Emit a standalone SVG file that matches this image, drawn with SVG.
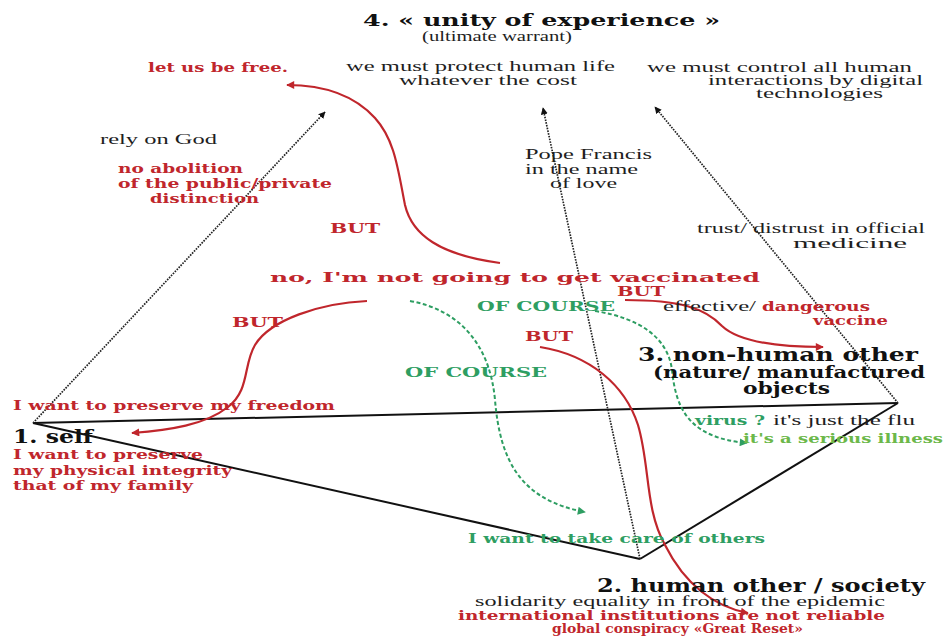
<svg xmlns="http://www.w3.org/2000/svg" width="945" height="637" viewBox="0 0 945 637">
  <style>
    text { font-family: "DejaVu Serif", "Liberation Serif", serif; }
    .reg { font-family: "Liberation Serif", "DejaVu Serif", serif; font-size: 15px; fill: #1e1e1e; }
    .red { font-size: 13px; font-weight: bold; fill: #c0262c; }
    .grn { font-size: 13px; font-weight: bold; fill: #2e9e62; }
    .lgrn { font-size: 13px; font-weight: bold; fill: #6cb84a; }
    .head { font-weight: bold; fill: #111; }
    .edge { fill: none; stroke: #111; stroke-width: 2; }
    .dot { fill: none; stroke: #222; stroke-width: 1.7; stroke-dasharray: 1.6 1.2; }
    .rc { fill: none; stroke: #c0262c; stroke-width: 2.2; }
    .gc { fill: none; stroke: #2e9e62; stroke-width: 2; stroke-dasharray: 4 2.5; }
  </style>
  <defs>
    <marker id="ah-black" viewBox="0 0 10 10" refX="9" refY="5" markerWidth="7" markerHeight="7" markerUnits="userSpaceOnUse" orient="auto">
      <path d="M0,0 L10,5 L0,10 z" fill="#111"/>
    </marker>
    <marker id="ah-red" viewBox="0 0 10 10" refX="9" refY="5" markerWidth="9" markerHeight="8" markerUnits="userSpaceOnUse" orient="auto">
      <path d="M0,0 L10,5 L0,10 z" fill="#c0262c"/>
    </marker>
    <marker id="ah-green" viewBox="0 0 10 10" refX="9" refY="5" markerWidth="9" markerHeight="8" markerUnits="userSpaceOnUse" orient="auto">
      <path d="M0,0 L10,5 L0,10 z" fill="#2e9e62"/>
    </marker>
  </defs>

  <rect width="945" height="637" fill="#ffffff"/>

  <!-- base triangle and dotted edges towards the apex -->
  <g id="connectors">
    <line class="edge" x1="33" y1="423" x2="898" y2="403"/>
    <line class="edge" x1="33" y1="423" x2="640" y2="559"/>
    <line class="edge" x1="640" y1="559" x2="898" y2="403"/>

    <line class="dot" x1="33" y1="423" x2="325" y2="112" marker-end="url(#ah-black)"/>
    <line class="dot" x1="640" y1="559" x2="543" y2="108" marker-end="url(#ah-black)"/>
    <line class="dot" x1="898" y1="403" x2="655" y2="107" marker-end="url(#ah-black)"/>

    <!-- red "BUT" arrows -->
    <path class="rc" d="M 500 263 C 440 255, 412 235, 405 205 C 398 170, 395 140, 375 118 C 355 96, 325 85, 287 85" marker-end="url(#ah-red)"/>
    <path class="rc" d="M 367 301 C 320 303, 270 320, 255 345 C 243 365, 250 390, 228 407 C 205 425, 170 430, 132 433" marker-end="url(#ah-red)"/>
    <path class="rc" d="M 625 300 C 680 300, 705 308, 722 326 C 740 343, 780 347, 823 347" marker-end="url(#ah-red)"/>
    <path class="rc" d="M 540 347 C 590 355, 625 385, 638 425 C 650 465, 645 510, 665 545 C 685 585, 715 607, 748 613" marker-end="url(#ah-red)"/>

    <!-- green "OF COURSE" arrows -->
    <path class="gc" d="M 410 301 C 460 310, 490 345, 495 400 C 500 460, 520 500, 585 512" marker-end="url(#ah-green)"/>
    <path class="gc" d="M 595 311 C 640 318, 668 338, 672 370 C 676 410, 690 438, 747 443" marker-end="url(#ah-green)"/>
  </g>

  <g id="node-unity">
    <text class="head" x="363" y="26" font-size="17" textLength="357" lengthAdjust="spacingAndGlyphs">4. « unity of experience »</text>
    <text class="reg" x="422" y="41" font-size="14" textLength="150" lengthAdjust="spacingAndGlyphs">(ultimate warrant)</text>
    <text class="red" x="148" y="72" textLength="140" lengthAdjust="spacingAndGlyphs">let us be free.</text>
    <text class="reg" x="346" y="71" textLength="269" lengthAdjust="spacingAndGlyphs">we must protect human life</text>
    <text class="reg" x="399" y="85" textLength="178" lengthAdjust="spacingAndGlyphs">whatever  the cost</text>
    <text class="reg" x="647" y="72" textLength="265" lengthAdjust="spacingAndGlyphs">we must control all human</text>
    <text class="reg" x="708" y="85" textLength="215" lengthAdjust="spacingAndGlyphs">interactions by digital</text>
    <text class="reg" x="756" y="98" textLength="127" lengthAdjust="spacingAndGlyphs">technologies</text>
  </g>

  <g id="node-self-apex">
    <text class="reg" x="100" y="144" textLength="117" lengthAdjust="spacingAndGlyphs">rely on God</text>
    <text class="red" x="118" y="173" textLength="125" lengthAdjust="spacingAndGlyphs">no abolition</text>
    <text class="red" x="118" y="188" textLength="214" lengthAdjust="spacingAndGlyphs">of the public/private</text>
    <text class="red" x="150" y="203" textLength="109" lengthAdjust="spacingAndGlyphs">distinction</text>
  </g>

  <g id="node-other-apex">
    <text class="reg" x="525" y="159" textLength="127" lengthAdjust="spacingAndGlyphs">Pope Francis</text>
    <text class="reg" x="525" y="174" textLength="113" lengthAdjust="spacingAndGlyphs">in the name</text>
    <text class="reg" x="550" y="188" textLength="67" lengthAdjust="spacingAndGlyphs">of love</text>
  </g>

  <g id="node-nonhuman-apex">
    <text class="reg" x="697" y="233" textLength="228" lengthAdjust="spacingAndGlyphs">trust/ distrust in official</text>
    <text class="reg" x="793" y="248" textLength="114" lengthAdjust="spacingAndGlyphs">medicine</text>
  </g>

  <g id="node-center">
    <text class="red" x="330" y="233" textLength="50" lengthAdjust="spacingAndGlyphs">BUT</text>
    <text class="red" x="270" y="282" font-size="19" textLength="490" lengthAdjust="spacingAndGlyphs">no, I'm not  going to get vaccinated</text>
    <text class="red" x="617" y="296" textLength="48" lengthAdjust="spacingAndGlyphs">BUT</text>
    <text class="grn" x="477" y="311" textLength="138" lengthAdjust="spacingAndGlyphs">OF COURSE</text>
    <text class="red" x="232" y="327" textLength="51" lengthAdjust="spacingAndGlyphs">BUT</text>
    <text class="red" x="525" y="341" textLength="48" lengthAdjust="spacingAndGlyphs">BUT</text>
    <text class="grn" x="405" y="377" textLength="142" lengthAdjust="spacingAndGlyphs">OF COURSE</text>
  </g>

  <g id="node-nonhuman">
    <text class="reg" x="663" y="311" textLength="93" lengthAdjust="spacingAndGlyphs">effective/</text>
    <text class="red" x="762" y="311" textLength="108" lengthAdjust="spacingAndGlyphs">dangerous</text>
    <text class="red" x="813" y="325" textLength="75" lengthAdjust="spacingAndGlyphs">vaccine</text>
    <text class="head" x="638" y="361" font-size="18" textLength="280" lengthAdjust="spacingAndGlyphs">3. non-human other</text>
    <text class="head" x="653" y="378" font-size="16" textLength="272" lengthAdjust="spacingAndGlyphs">(nature/ manufactured</text>
    <text class="head" x="743" y="394" font-size="16" textLength="87" lengthAdjust="spacingAndGlyphs">objects</text>
    <text class="grn" x="695" y="425" textLength="70" lengthAdjust="spacingAndGlyphs">virus ?</text>
    <text class="reg" x="773" y="425" textLength="142" lengthAdjust="spacingAndGlyphs">it's just the flu</text>
    <text class="lgrn" x="743" y="443" textLength="200" lengthAdjust="spacingAndGlyphs">it's a serious illness</text>
  </g>

  <g id="node-self">
    <text class="red" x="13" y="410" textLength="322" lengthAdjust="spacingAndGlyphs">I want to preserve my freedom</text>
    <text class="head" x="13" y="443" font-size="19" textLength="80" lengthAdjust="spacingAndGlyphs">1. self</text>
    <text class="red" x="13" y="459" textLength="190" lengthAdjust="spacingAndGlyphs">I want to preserve</text>
    <text class="red" x="13" y="475" textLength="219" lengthAdjust="spacingAndGlyphs">my physical integrity</text>
    <text class="red" x="13" y="490" textLength="180" lengthAdjust="spacingAndGlyphs">that of my family</text>
  </g>

  <g id="node-society">
    <text class="grn" x="468" y="543" textLength="297" lengthAdjust="spacingAndGlyphs">I want to take care of others</text>
    <text class="head" x="597" y="592" font-size="19" textLength="328" lengthAdjust="spacingAndGlyphs">2. human other / society</text>
    <text class="reg" x="475" y="606" textLength="410" lengthAdjust="spacingAndGlyphs">solidarity equality in front of the epidemic</text>
    <text class="red" x="458" y="620" textLength="427" lengthAdjust="spacingAndGlyphs">international institutions are not reliable</text>
    <text class="red" x="552" y="633" textLength="251" lengthAdjust="spacingAndGlyphs">global conspiracy  «Great Reset»</text>
  </g>
</svg>
